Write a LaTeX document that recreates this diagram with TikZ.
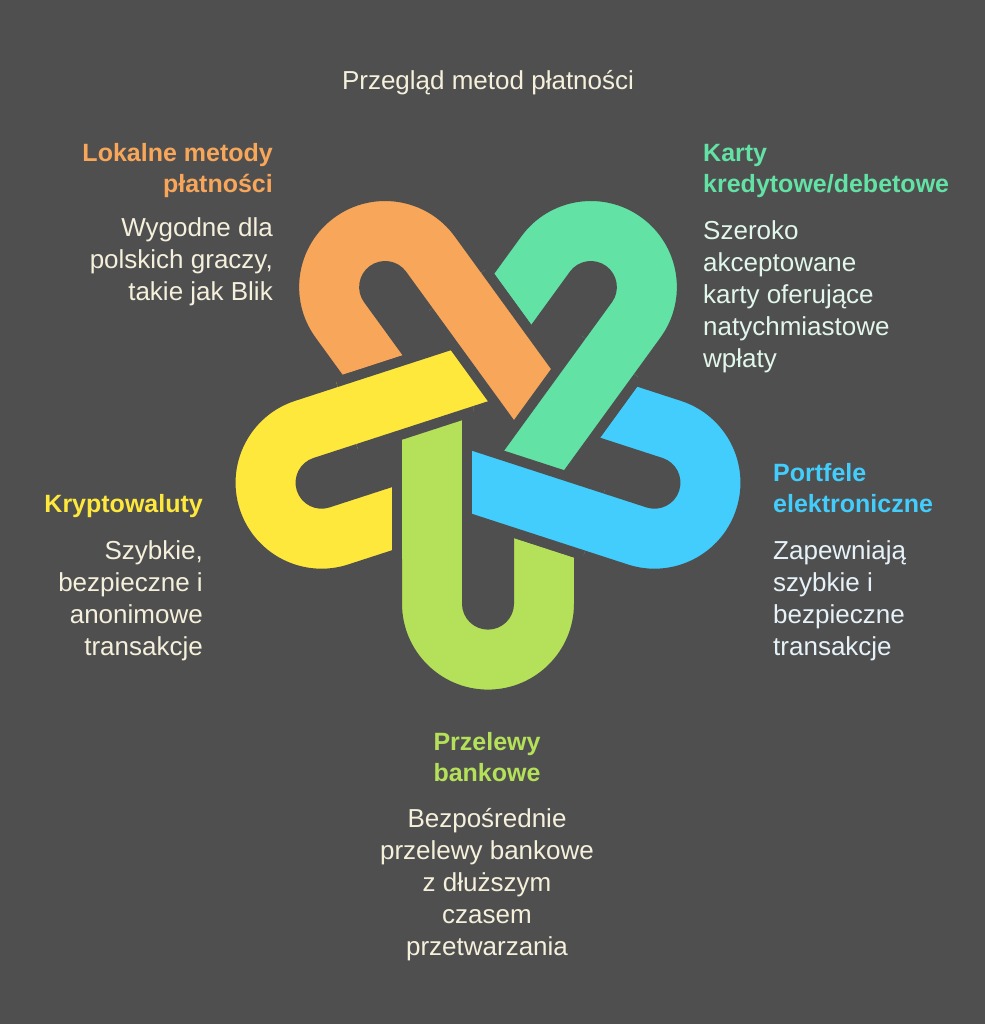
\documentclass[tikz,border=0pt]{standalone}
\usepackage{fontspec}
\setmainfont{Liberation Sans}
\begin{document}
\definecolor{bg}{HTML}{4F4F4F}
\definecolor{cOr}{HTML}{F7A65A}
\definecolor{cTe}{HTML}{62E2A5}
\definecolor{cBl}{HTML}{42CDFC}
\definecolor{cYe}{HTML}{FFE83C}
\definecolor{cGr}{HTML}{B4E05A}
\definecolor{txt}{HTML}{F5F0DC}
\definecolor{txtT}{HTML}{E2F7EC}
\definecolor{txtB}{HTML}{E6F2F8}
\newcommand\upath{(-91,-175) -- (-91,40) -- (-21,40) -- (-21,-175) arc[start angle=180,end angle=360,radius=21] -- (21,-75) -- (91,-75) -- (91,-175) arc[start angle=0,end angle=-180,radius=91] -- cycle}
\newcommand\ushape[2]{\begin{scope}[shift={(488,-428.6)},rotate=#1]
  \filldraw[fill=#2,draw=bg,line width=10pt,line join=round] \upath;\end{scope}}
% #1 angle, #2 colour, #3 end of the strip
\newcommand\lstrip[3]{\begin{scope}[shift={(488,-428.6)},rotate=#1]
  \fill[#2] (-91,-130) rectangle (-21,#3);
  \draw[bg,line width=10pt,line join=round] (-91,-130) -- (-91,#3) -- (-21,#3) -- (-21,-130);
  \end{scope}}
\begin{tikzpicture}[x=1pt,y=1pt,
  head/.style={font=\fontsize{25}{31}\selectfont\bfseries,inner sep=0pt},
  body/.style={font=\fontsize{26}{32}\selectfont,inner sep=0pt}]
\fill[bg] (0,0) rectangle (985,-1024);
\useasboundingbox (0,0) rectangle (985,-1024);
% full hooks
\ushape{0}{cGr}
\ushape{72}{cBl}
\ushape{144}{cTe}
\ushape{216}{cOr}
\ushape{288}{cYe}
% long legs, each over the next one
\lstrip{288}{cYe}{40}
\lstrip{216}{cOr}{40}
\lstrip{144}{cTe}{40}
\lstrip{72}{cBl}{40}
\lstrip{0}{cGr}{18}
% close the cycle: yellow long leg over the end of the green one
\begin{scope}
  \clip (391,-395) rectangle (473,-480);
  \lstrip{288}{cYe}{40}
\end{scope}
% texts
\node[body,text=txt,anchor=north] (title) at (488,-70) {Przegląd metod płatności};
\node[head,text=cOr,anchor=north east,align=right] (h1) at (273,-143) {Lokalne metody\\płatności};
\node[body,text=txt,anchor=north east,align=right] (b1) at (273,-217) {Wygodne dla\\polskich graczy,\\takie jak Blik};
\node[head,text=cTe,anchor=north west,align=left] (h2) at (703,-144) {Karty\\kredytowe/debetowe};
\node[body,text=txtT,anchor=north west,align=left] (b2) at (703,-220) {Szeroko\\akceptowane\\karty oferujące\\natychmiastowe\\wpłaty};
\node[head,text=cBl,anchor=north west,align=left] (h3) at (773,-463) {Portfele\\elektroniczne};
\node[body,text=txtB,anchor=north west,align=left] (b3) at (773,-540) {Zapewniają\\szybkie i\\bezpieczne\\transakcje};
\node[head,text=cYe,anchor=north east,align=right] (h4) at (203,-494) {Kryptowaluty};
\node[body,text=txt,anchor=north east,align=right] (b4) at (203,-540) {Szybkie,\\bezpieczne i\\anonimowe\\transakcje};
\node[head,text=cGr,anchor=north,align=center] (h5) at (487,-732) {Przelewy\\bankowe};
\node[body,text=txt,anchor=north,align=center] (b5) at (487,-808) {Bezpośrednie\\przelewy bankowe\\z dłuższym\\czasem\\przetwarzania};
\end{tikzpicture}
\end{document}
